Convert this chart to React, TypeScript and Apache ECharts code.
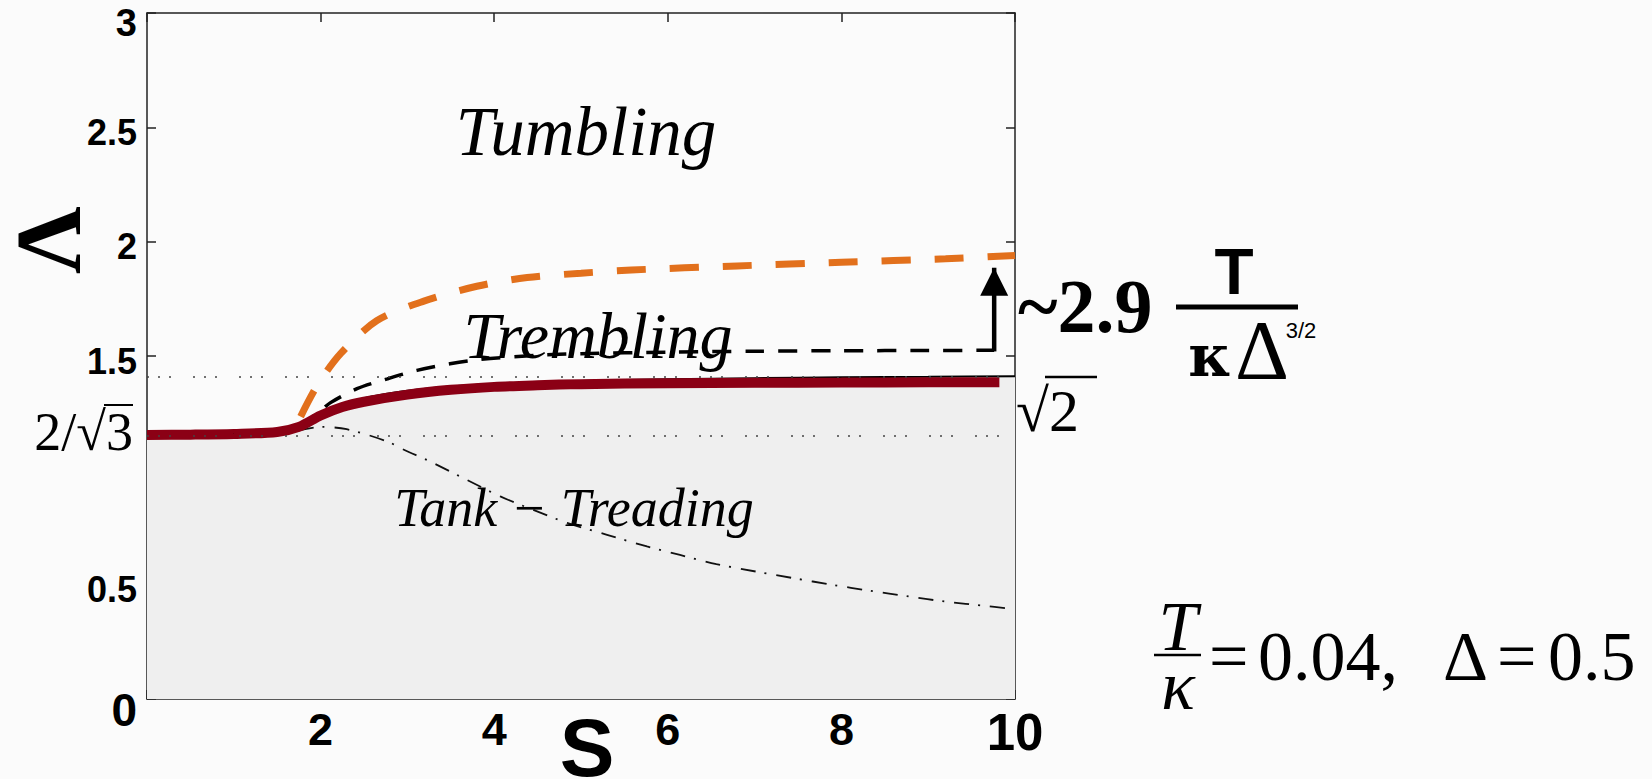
import React, { useEffect, useRef } from 'react';
import * as echarts from 'echarts';

// ---- data (S, Lambda) ----
const xTicks = [0, 2, 4, 6, 8, 10];
const yTicks = [0, 0.5, 1, 1.5, 2, 2.5, 3];

const redS = [0, 0.5, 1, 1.5, 1.75, 2, 2.25, 2.5, 3, 3.5, 4, 4.5, 5, 6, 7, 8, 9, 9.82];
const redL = [1.155, 1.156, 1.159, 1.168, 1.19, 1.24, 1.277, 1.3, 1.331, 1.352, 1.365, 1.372, 1.377, 1.381, 1.383, 1.384, 1.385, 1.385];

const solidS = [0, 1, 1.5, 1.75, 2, 2.5, 3, 3.5, 4, 5, 6, 7, 8, 9, 10];
const solidL = [1.155, 1.16, 1.17, 1.19, 1.25, 1.315, 1.348, 1.367, 1.378, 1.391, 1.398, 1.403, 1.407, 1.409, 1.411];

const dashedS = [1.75, 2, 2.11, 2.42, 2.77, 3.11, 3.49, 3.84, 4.5, 5, 6, 7, 8, 9, 9.76];
const dashedL = [1.19, 1.26, 1.295, 1.357, 1.4, 1.437, 1.466, 1.485, 1.503, 1.51, 1.517, 1.521, 1.523, 1.524, 1.525];

const orangeS = [1.77, 1.96, 2.23, 2.65, 3.19, 3.8, 4.38, 5, 5.58, 6.8, 8, 9.2, 10];
const orangeL = [1.235, 1.37, 1.51, 1.655, 1.74, 1.805, 1.843, 1.862, 1.876, 1.894, 1.91, 1.925, 1.94];

const dashDotS = [1.75, 2.0, 2.3, 2.77, 2.96, 3.26, 3.64, 4.07, 4.45, 4.84, 5.3, 5.76, 6.14, 6.56, 7.02, 7.44, 7.9, 8.32, 8.78, 9.2, 9.66, 9.9];
const dashDotL = [1.175, 1.19, 1.18, 1.126, 1.09, 1.039, 0.967, 0.886, 0.827, 0.77, 0.718, 0.667, 0.63, 0.59, 0.557, 0.529, 0.499, 0.474, 0.448, 0.426, 0.407, 0.397];

const arrowS = [9.76, 9.76];
const arrowL = [1.52, 1.886];

const sqrt2 = Math.SQRT2;
const twoOverSqrt3 = 2 / Math.sqrt(3);

const zip = (xs: number[], ys: number[]) => xs.map((x, i) => [x, ys[i]]);

const SERIF = '"Liberation Serif", "Times New Roman", serif';
const SANS = '"Liberation Sans", Arial, sans-serif';

export default function App() {
  const ref = useRef<HTMLDivElement>(null);

  useEffect(() => {
    document.body.style.margin = '0';
    const chart = echarts.init(ref.current!, null, { renderer: 'svg' });

    const axisLineStyle = { color: '#222', width: 1.5 };
    const dotted = [2, 9, 2, 9, 2, 22];

    const mirrorAxis = (extra: any) => ({
      type: 'value',
      axisLine: { show: true, onZero: false, lineStyle: axisLineStyle },
      axisTick: { show: true, inside: true, length: 9, lineStyle: axisLineStyle },
      splitLine: { show: false },
      axisLabel: { show: false },
      ...extra,
    });

    const option: any = {
      animation: false,
      backgroundColor: '#fbfbfb',
      grid: { left: 147, top: 13, width: 868, height: 686, show: false },
      xAxis: [
        {
          type: 'value', min: 0, max: 10, interval: 2, position: 'bottom',
          axisLine: { show: true, onZero: false, lineStyle: axisLineStyle },
          axisTick: { show: true, inside: true, length: 9, lineStyle: axisLineStyle },
          splitLine: { show: false },
          axisLabel: {
            margin: 8,
            formatter: (v: number) => (v === 0 ? '' : v === 10 ? '{big|10}' : '{n|' + v + '}'),
            rich: {
              n: { fontFamily: SANS, fontWeight: 'bold', fontSize: 45, color: '#000' },
              big: { fontFamily: SANS, fontWeight: 'bold', fontSize: 51, color: '#000' },
            },
          },
        },
        mirrorAxis({ min: 0, max: 10, interval: 2, position: 'top' }),
      ],
      yAxis: [
        {
          type: 'value', min: 0, max: 3, interval: 0.5, position: 'left',
          axisLine: { show: true, onZero: false, lineStyle: axisLineStyle },
          axisTick: { show: true, inside: true, length: 9, lineStyle: axisLineStyle },
          splitLine: { show: false },
          axisLabel: {
            margin: 10,
            formatter: (v: number) =>
              v === 1 ? '' : v === 0 ? '{zero|0}' : v === 3 ? '{top|3}' : '{n|' + v + '}',
            rich: {
              n: { fontFamily: SANS, fontWeight: 'bold', fontSize: 36, color: '#000', padding: [10, 0, 0, 0] },
              top: { fontFamily: SANS, fontWeight: 'bold', fontSize: 38, color: '#000', padding: [20, 0, 0, 0] },
              zero: { fontFamily: SANS, fontWeight: 'bold', fontSize: 46, color: '#000', padding: [22, 0, 0, 0] },
            },
          },
        },
        mirrorAxis({ min: 0, max: 3, interval: 0.5, position: 'right' }),
      ],
      series: [
        {
          name: 'region', type: 'line', data: zip(solidS, solidL), symbol: 'none',
          smooth: 0.3,
          lineStyle: { width: 0, opacity: 0 }, areaStyle: { color: '#efefef', opacity: 1 }, z: 1, silent: true,
          markLine: {
            silent: true, symbol: 'none', animation: false,
            label: { show: false },
            lineStyle: { color: '#444', width: 1.6, type: dotted },
            data: [{ yAxis: sqrt2 }, { yAxis: twoOverSqrt3 }],
          },
        },
        {
          name: 'dashdot', type: 'line', data: zip(dashDotS, dashDotL), symbol: 'none',
          smooth: 0.3,
          lineStyle: { color: '#111', width: 1.8, type: [15, 9, 2, 10] }, z: 3,
        },
        {
          name: 'dashed', type: 'line', data: zip(dashedS, dashedL), symbol: 'none',
          smooth: 0.3,
          lineStyle: { color: '#000', width: 3.5, type: [19, 14] }, z: 3,
        },
        {
          name: 'orange', type: 'line', data: zip(orangeS, orangeL), symbol: 'none',
          smooth: 0.3,
          lineStyle: { color: '#e2701c', width: 7, type: [29, 24] }, z: 3,
        },
        {
          name: 'solid', type: 'line', data: zip(solidS, solidL), symbol: 'none',
          smooth: 0.3,
          lineStyle: { color: '#000', width: 2 }, z: 3,
        },
        {
          name: 'red', type: 'line', data: zip(redS, redL), symbol: 'none',
          smooth: 0.3,
          lineStyle: { color: '#8b0015', width: 10 }, z: 4,
        },
        {
          name: 'arrow', type: 'line', data: zip(arrowS, arrowL),
          showSymbol: true, symbol: 'triangle',
          symbolSize: (_v: any, p: any) => (p.dataIndex === 1 ? [28, 28] : 0),
          symbolOffset: [0, '50%'],
          itemStyle: { color: '#000' },
          lineStyle: { color: '#000', width: 4.5 }, z: 6,
        },
      ],
      graphic: [
        // axis names
        { type: 'text', x: 48, y: 240, rotation: Math.PI / 2, z: 100,
          style: { text: 'Λ', font: 'bold 94px ' + SERIF, lineHeight: 70, fill: '#000', align: 'center', verticalAlign: 'middle' } },
        { type: 'text', x: 587, y: 747, z: 100,
          style: { text: 'S', font: 'bold 82px ' + SANS, lineHeight: 62, fill: '#000', align: 'center', verticalAlign: 'middle' } },
        // special tick labels
        { type: 'text', x: 133, y: 432, z: 100,
          style: { text: '2/√3', font: '54px ' + SERIF, fill: '#000', align: 'right', verticalAlign: 'middle' } },
        { type: 'line', z: 100, shape: { x1: 104, y1: 405, x2: 133, y2: 405 }, style: { stroke: '#000', lineWidth: 2 } },
        { type: 'text', x: 1016, y: 411, z: 100,
          style: { text: '√2', font: '60px ' + SERIF, fill: '#000', align: 'left', verticalAlign: 'middle' } },
        { type: 'line', z: 100, shape: { x1: 1045, y1: 377, x2: 1097, y2: 377 }, style: { stroke: '#000', lineWidth: 2.5 } },
        // region labels
        { type: 'text', x: 586, y: 132, z: 100,
          style: { text: 'Tumbling', font: 'italic 69px ' + SERIF, fill: '#000', align: 'center', verticalAlign: 'middle' } },
        { type: 'text', x: 598, y: 335, z: 100,
          style: { text: 'Trembling', font: 'italic 66px ' + SERIF, fill: '#000', align: 'center', verticalAlign: 'middle' } },
        { type: 'text', x: 574, y: 508, z: 100,
          style: { text: 'Tank − Treading', font: 'italic 54px ' + SERIF, fill: '#000', align: 'center', verticalAlign: 'middle' } },
        // gap formula
        { type: 'text', x: 1018, y: 306, z: 100,
          style: { text: '~2.9', font: 'bold 76px ' + SERIF, fill: '#000', align: 'left', verticalAlign: 'middle' } },
        { type: 'text', x: 1234, y: 272, z: 100,
          style: { text: 'T', font: 'bold 64px ' + SANS, lineHeight: 50, fill: '#000', align: 'center', verticalAlign: 'middle' } },
        { type: 'line', z: 100, shape: { x1: 1176, y1: 307, x2: 1298, y2: 307 }, style: { stroke: '#000', lineWidth: 5 } },
        { type: 'text', x: 1210, y: 356, z: 100,
          style: { text: 'κ', font: 'bold 58px "DejaVu Serif", serif', lineHeight: 40, fill: '#000', align: 'center', verticalAlign: 'middle' } },
        { type: 'text', x: 1262, y: 350, z: 100,
          style: { text: 'Δ', font: '84px ' + SERIF, lineHeight: 60, fill: '#000', align: 'center', verticalAlign: 'middle' } },
        { type: 'text', x: 1301, y: 330, z: 100,
          style: { text: '3/2', font: '22px ' + SANS, fill: '#000', align: 'center', verticalAlign: 'middle' } },
        // parameters
        { type: 'text', x: 1178, y: 626, z: 100,
          style: { text: 'T', font: 'italic 70px ' + SERIF, lineHeight: 48, fill: '#000', align: 'center', verticalAlign: 'middle' } },
        { type: 'line', z: 100, shape: { x1: 1154, y1: 655, x2: 1201, y2: 655 }, style: { stroke: '#000', lineWidth: 2.5 } },
        { type: 'text', x: 1178, y: 685, z: 100,
          style: { text: 'κ', font: 'italic 70px ' + SERIF, lineHeight: 40, fill: '#000', align: 'center', verticalAlign: 'middle' } },
        { type: 'text', x: 1209, y: 656, z: 100,
          style: { text: '=', font: '70px ' + SERIF, fill: '#000', align: 'left', verticalAlign: 'middle' } },
        { type: 'text', x: 1258, y: 656, z: 100,
          style: { text: '0.04,', font: '70px ' + SERIF, fill: '#000', align: 'left', verticalAlign: 'middle' } },
        { type: 'text', x: 1443, y: 656, z: 100,
          style: { text: 'Δ', font: '70px ' + SERIF, fill: '#000', align: 'left', verticalAlign: 'middle' } },
        { type: 'text', x: 1497, y: 656, z: 100,
          style: { text: '=', font: '70px ' + SERIF, fill: '#000', align: 'left', verticalAlign: 'middle' } },
        { type: 'text', x: 1548, y: 656, z: 100,
          style: { text: '0.5', font: '70px ' + SERIF, fill: '#000', align: 'left', verticalAlign: 'middle' } },
      ],
    };

    chart.setOption(option);
    return () => chart.dispose();
  }, []);

  return <div ref={ref} style={{ width: 1652, height: 779, background: '#fbfbfb' }} />;
}
